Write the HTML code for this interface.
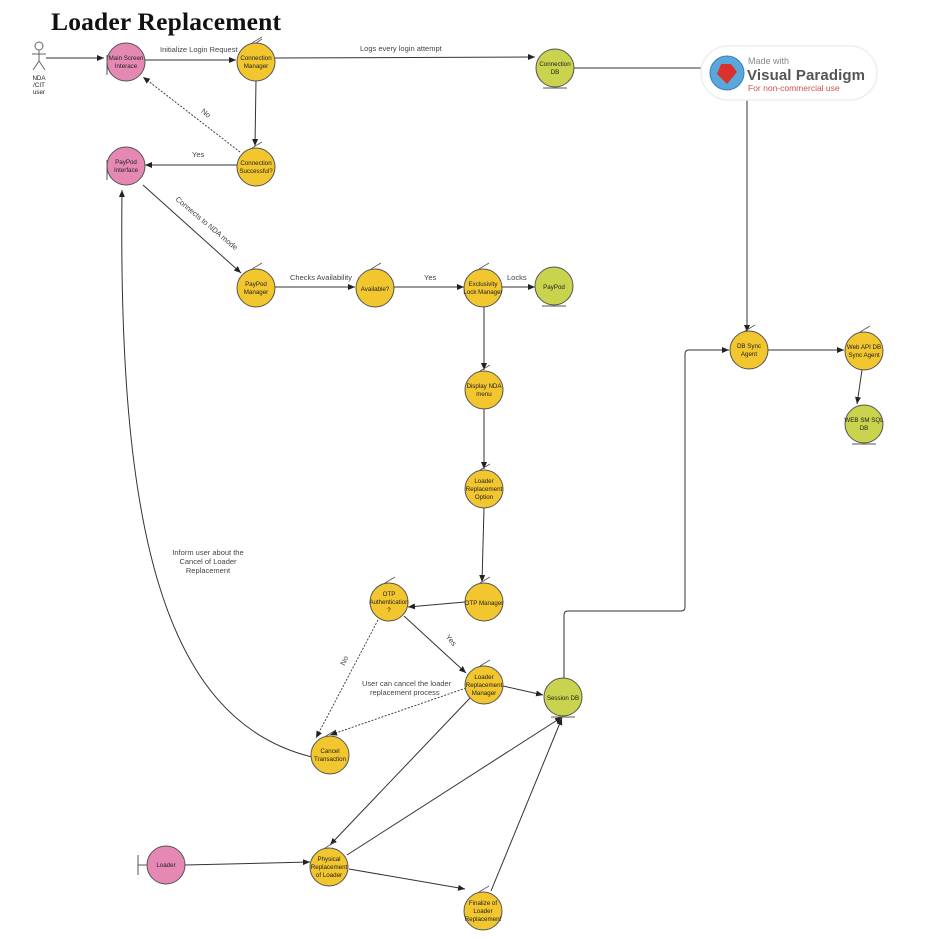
<!DOCTYPE html>
<html><head><meta charset="utf-8"><style>
body{margin:0;background:#fff;}
svg{display:block;font-family:"Liberation Sans",Arial,sans-serif;}
.n{stroke:#555;stroke-width:1}
.y{fill:#f2c62f}.p{fill:#e589b4}.g{fill:#c9d34d}
.t{font-size:6.2px;text-anchor:middle;fill:#222}
.l{font-size:7.5px;fill:#444}
.e{stroke:#333;stroke-width:1;fill:none}
.d{stroke:#333;stroke-width:0.9;fill:none;stroke-dasharray:2,1.5}
</style></head><body>
<svg width="939" height="938" viewBox="0 0 939 938">
<defs><marker id="a" markerWidth="8" markerHeight="8" refX="7" refY="3" orient="auto" markerUnits="userSpaceOnUse"><path d="M0,0 L7,3 L0,6z" fill="#222"/></marker></defs>
<text x="51" y="30" font-family="Liberation Serif,serif" font-weight="bold" font-size="25.5" fill="#111" textLength="230">Loader Replacement</text>

<!-- actor -->
<g stroke="#666" fill="none" stroke-width="1"><circle cx="39" cy="46" r="4" fill="#fff"/><line x1="39" y1="50" x2="39" y2="61"/><line x1="32" y1="54" x2="46" y2="54"/><line x1="39" y1="61" x2="33" y2="70"/><line x1="39" y1="61" x2="45" y2="70"/></g>
<text class="t" x="39" y="80">NDA</text><text class="t" x="39" y="87">/CIT</text><text class="t" x="39" y="94">user</text>

<!-- edges -->
<line class="e" x1="46" y1="58" x2="104" y2="58" marker-end="url(#a)"/>
<line class="e" x1="144" y1="60" x2="236" y2="60" marker-end="url(#a)"/>
<text class="l" x="160" y="52">Initialize Login Request</text>
<line class="e" x1="275" y1="58" x2="535" y2="57" marker-end="url(#a)"/>
<text class="l" x="360" y="51">Logs every login attempt</text>
<line class="e" x1="574" y1="68" x2="705" y2="68"/>
<line class="e" x1="256" y1="80" x2="255" y2="146" marker-end="url(#a)"/>
<line class="d" x1="240" y1="152" x2="143" y2="77" marker-end="url(#a)"/>
<text class="l" x="200" y="114" transform="rotate(38 203 114)">No</text>
<line class="e" x1="237" y1="165" x2="145" y2="165" marker-end="url(#a)"/>
<text class="l" x="192" y="157">Yes</text>
<line class="e" x1="143" y1="185" x2="241" y2="273" marker-end="url(#a)"/>
<text class="l" x="175" y="200" transform="rotate(40 175 200)">Connects to NDA mode</text>
<line class="e" x1="275" y1="287" x2="355" y2="287" marker-end="url(#a)"/>
<text class="l" x="290" y="280">Checks Availability</text>
<line class="e" x1="394" y1="287" x2="464" y2="287" marker-end="url(#a)"/>
<text class="l" x="424" y="280">Yes</text>
<line class="e" x1="502" y1="287" x2="535" y2="287" marker-end="url(#a)"/>
<text class="l" x="507" y="280">Locks</text>
<line class="e" x1="484" y1="306" x2="484" y2="370" marker-end="url(#a)"/>
<line class="e" x1="484" y1="409" x2="484" y2="469" marker-end="url(#a)"/>
<line class="e" x1="484" y1="508" x2="482" y2="582" marker-end="url(#a)"/>
<line class="e" x1="465" y1="602" x2="408" y2="607" marker-end="url(#a)"/>
<line class="e" x1="404" y1="616" x2="466" y2="673" marker-end="url(#a)"/>
<text class="l" x="443" y="638" transform="rotate(50 445 640)">Yes</text>
<line class="d" x1="378" y1="620" x2="316" y2="738" marker-end="url(#a)"/>
<text class="l" x="340" y="665" transform="rotate(-65 343 662)">No</text>
<line class="d" x1="466" y1="688" x2="330" y2="735" marker-end="url(#a)"/>
<text class="l" x="362" y="686">User can cancel the loader</text>
<text class="l" x="370" y="695">replacement process</text>
<line class="e" x1="503" y1="686" x2="543" y2="695" marker-end="url(#a)"/>
<line class="e" x1="470" y1="698" x2="330" y2="845" marker-end="url(#a)"/>
<line class="e" x1="347" y1="855" x2="562" y2="717" marker-end="url(#a)"/>
<line class="e" x1="491" y1="891" x2="562" y2="718" marker-end="url(#a)"/>
<line class="e" x1="185" y1="865" x2="310" y2="862" marker-end="url(#a)"/>
<line class="e" x1="349" y1="869" x2="465" y2="889" marker-end="url(#a)"/>
<path class="e" d="M312,757 C160,720 118,520 122,190" marker-end="url(#a)"/>
<text class="l" text-anchor="middle" x="208" y="555">Inform user about the</text>
<text class="l" text-anchor="middle" x="208" y="564">Cancel of Loader</text>
<text class="l" text-anchor="middle" x="208" y="573">Replacement</text>
<path class="e" d="M564,678 L564,615 Q564,611 568,611 L681,611 Q685,611 685,607 L685,354 Q685,350 689,350 L729,350" marker-end="url(#a)"/>
<line class="e" x1="747" y1="100" x2="747" y2="332" marker-end="url(#a)"/>
<line class="e" x1="768" y1="350" x2="844" y2="350" marker-end="url(#a)"/>
<line class="e" x1="862" y1="370" x2="857" y2="404" marker-end="url(#a)"/>

<!-- nodes: boundary -->
<g class="n"><line x1="107" y1="55" x2="107" y2="75"/><line x1="107" y1="65" x2="110" y2="65"/>
<line x1="107" y1="160" x2="107" y2="180"/><line x1="107" y1="170" x2="110" y2="170"/>
<line x1="138" y1="855" x2="138" y2="875"/><line x1="138" y1="865" x2="147" y2="865"/></g>
<circle class="n p" cx="126" cy="62" r="19"/><text class="t" x="126" y="60">Main Screen</text><text class="t" x="126" y="68">Interace</text>
<circle class="n p" cx="126" cy="166" r="19"/><text class="t" x="126" y="164">PayPod</text><text class="t" x="126" y="172">Interface</text>
<circle class="n p" cx="166" cy="865" r="19"/><text class="t" x="166" y="867">Loader</text>

<!-- controls -->
<g class="n y">
<circle cx="256" cy="62" r="19"/><circle cx="256" cy="167" r="19"/><circle cx="256" cy="288" r="19"/>
<circle cx="375" cy="288" r="19"/><circle cx="483" cy="288" r="19"/><circle cx="484" cy="390" r="19"/>
<circle cx="484" cy="489" r="19"/><circle cx="484" cy="602" r="19"/><circle cx="389" cy="602" r="19"/>
<circle cx="484" cy="685" r="19"/><circle cx="330" cy="755" r="19"/><circle cx="329" cy="867" r="19"/>
<circle cx="483" cy="911" r="19"/><circle cx="749" cy="350" r="19"/><circle cx="864" cy="351" r="19"/>
</g>
<g stroke="#555" stroke-width="0.8">
<path d="M252,43 l10,-6 M256,43 l6,-4"/><path d="M252,148 l10,-6"/><path d="M252,269 l10,-6"/>
<path d="M371,269 l10,-6"/><path d="M479,269 l10,-6"/><path d="M480,371 l10,-6"/><path d="M480,470 l10,-6"/>
<path d="M480,583 l10,-6"/><path d="M385,583 l10,-6"/><path d="M480,666 l10,-6"/><path d="M326,736 l10,-6"/>
<path d="M325,848 l10,-6"/><path d="M479,892 l10,-6"/><path d="M745,331 l10,-6"/><path d="M860,332 l10,-6"/>
</g>
<text class="t" x="256" y="60">Connection</text><text class="t" x="256" y="68">Manager</text>
<text class="t" x="256" y="165">Connection</text><text class="t" x="256" y="173">Successful?</text>
<text class="t" x="256" y="286">PayPod</text><text class="t" x="256" y="294">Manager</text>
<text class="t" x="375" y="291">Available?</text>
<text class="t" x="483" y="286">Exclusivity</text><text class="t" x="483" y="294">Lock Manager</text>
<text class="t" x="484" y="388">Display NDA</text><text class="t" x="484" y="396">menu</text>
<text class="t" x="484" y="483">Loader</text><text class="t" x="484" y="491">Replacement</text><text class="t" x="484" y="499">Option</text>
<text class="t" x="484" y="605">OTP Manager</text>
<text class="t" x="389" y="596">OTP</text><text class="t" x="389" y="604">Authentication</text><text class="t" x="389" y="612">?</text>
<text class="t" x="484" y="679">Loader</text><text class="t" x="484" y="687">Replacement</text><text class="t" x="484" y="695">Manager</text>
<text class="t" x="330" y="753">Cancel</text><text class="t" x="330" y="761">Transaction</text>
<text class="t" x="329" y="861">Physical</text><text class="t" x="329" y="869">Replacement</text><text class="t" x="329" y="877">of Loader</text>
<text class="t" x="483" y="905">Finalize of</text><text class="t" x="483" y="913">Loader</text><text class="t" x="483" y="921">Replacement</text>
<text class="t" x="749" y="348">DB Sync</text><text class="t" x="749" y="356">Agent</text>
<text class="t" x="864" y="349">Web API DB</text><text class="t" x="864" y="357">Sync Agent</text>

<!-- entities -->
<g class="n g"><circle cx="555" cy="68" r="19"/><circle cx="554" cy="286" r="19"/><circle cx="563" cy="697" r="19"/><circle cx="864" cy="424" r="19"/></g>
<g stroke="#555"><line x1="543" y1="88" x2="567" y2="88"/><line x1="542" y1="306" x2="566" y2="306"/><line x1="551" y1="717" x2="575" y2="717"/><line x1="852" y1="444" x2="876" y2="444"/></g>
<text class="t" x="555" y="66">Connection</text><text class="t" x="555" y="74">DB</text>
<text class="t" x="554" y="289">PayPod</text>
<text class="t" x="563" y="700">Session DB</text>
<text class="t" x="864" y="422">WEB SM SQL</text><text class="t" x="864" y="430">DB</text>

<!-- logo -->
<rect x="701" y="46" width="176" height="54" rx="27" fill="#fff" stroke="#eee" stroke-width="1.5"/>
<circle cx="727" cy="73" r="17" fill="#5aa7dc" stroke="#3a7fb8"/>
<path d="M721,64 l10,0 l6,8 l-10,12 l-10,-10z" fill="#d9312b"/>
<text x="748" y="64" font-size="9" fill="#888">Made with</text>
<text x="747" y="80" font-size="15" font-weight="bold" fill="#555" textLength="118">Visual Paradigm</text>
<text x="748" y="91" font-size="8.5" fill="#d0504a">For non-commercial use</text>
</svg>
</body></html>
